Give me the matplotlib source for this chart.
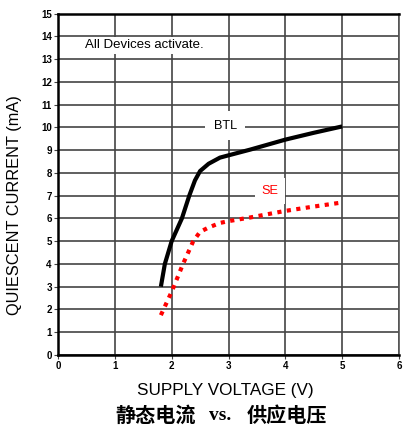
import matplotlib
matplotlib.use("Agg")
import matplotlib.pyplot as plt

btl_v = [1.81, 1.88, 2.0, 2.18, 2.31, 2.41, 2.5, 2.65, 2.85, 3.0, 3.38, 4.0, 4.5, 5.0]
btl_i = [3.0, 4.0, 5.0, 6.0, 7.0, 7.67, 8.08, 8.4, 8.67, 8.77, 9.02, 9.46, 9.76, 10.04]
se_v = [1.81, 2.0, 2.2, 2.38, 2.5, 2.65, 2.85, 3.0, 3.38, 4.0, 4.5, 5.0]
se_i = [1.75, 2.78, 4.0, 5.0, 5.41, 5.6, 5.8, 5.88, 6.04, 6.33, 6.52, 6.7]
xticks = [0, 1, 2, 3, 4, 5, 6]
yticks = list(range(0, 16))

fig = plt.figure(figsize=(4.03, 4.32), dpi=100)
ax = fig.add_axes([58/403, 1-355/432, 341/403, 341.5/432])
ax.set_xlim(0, 6)
ax.set_ylim(0, 15)
ax.set_xticks(xticks)
ax.set_yticks(yticks)
ax.grid(True, color="#444444", lw=1.2)
ax.set_axisbelow(True)
for lab in ax.get_xticklabels() + ax.get_yticklabels():
    lab.set_fontweight("bold")
    lab.set_fontfamily("Liberation Sans")
ax.tick_params(labelsize=7, length=3, width=0.8, color="#444444", pad=1.5)
for s in ["left", "bottom", "top"]:
    ax.spines[s].set_linewidth(1.8)
ax.spines["right"].set_linewidth(1.2)
ax.spines["right"].set_color("#555555")

ax.plot(btl_v, btl_i, color="black", lw=3, solid_capstyle="butt", solid_joinstyle="round")
ax.plot(se_v, se_i, color="red", lw=3, linestyle=(0, (1, 1.3)))

ax.text(0.47, 13.6, "All Devices activate.", fontsize=9.5, family="Liberation Sans",
        va="center", ha="left", bbox=dict(facecolor="white", edgecolor="none", pad=2))
ax.text(2.94, 10.08, "BTL", fontsize=9.2, family="Liberation Sans", va="center", ha="center",
        bbox=dict(facecolor="white", edgecolor="none", pad=6))
ax.text(3.73, 7.22, "SE", fontsize=9.2, family="Liberation Sans", color="red", va="center",
        ha="center", bbox=dict(facecolor="white", edgecolor="none", pad=5))

fig.text(225.5/403, 1-391/432, "SUPPLY VOLTAGE (V)", fontsize=12.3, family="Liberation Sans",
         ha="center", va="center")
fig.text(15/403, 1-205.5/432, "QUIESCENT CURRENT (mA)", fontsize=11.8, family="Liberation Sans",
         ha="center", va="center", rotation=90)

ty = 1 - 415/432
fig.text(115/403, ty, "静态电流", fontsize=14.5, fontweight="bold",
         family=["Noto Sans CJK SC", "DejaVu Sans"], ha="left", va="center")
fig.text(209/403, ty, "vs.", fontsize=14, fontweight="bold",
         family="Liberation Serif", ha="left", va="center")
fig.text(247/403, ty, "供应电压", fontsize=14.5, fontweight="bold",
         family=["Noto Sans CJK SC", "DejaVu Sans"], ha="left", va="center")

fig.savefig("out.png", dpi=100)
